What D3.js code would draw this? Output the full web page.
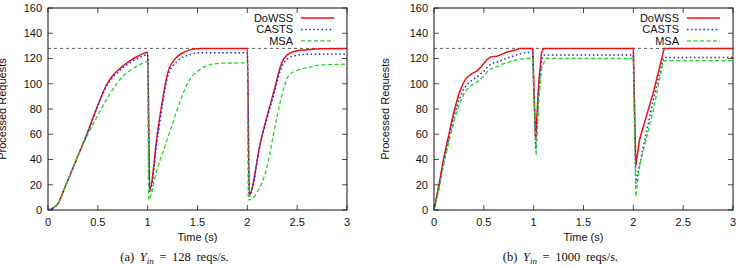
<!DOCTYPE html>
<html>
<head>
<meta charset="utf-8">
<script src="https://cdn.jsdelivr.net/npm/d3@7"></script>
<style>
  body { margin: 0; background: #fff; }
  svg { display: block; }
</style>
</head>
<body>
<svg id="chart" width="740" height="267"></svg>
<script>
// tick labels
const xTicks = [0, 0.5, 1, 1.5, 2, 2.5, 3];
const yTicks = [0, 20, 40, 60, 80, 100, 120, 140, 160];
const seriesNames = ["DoWSS", "CASTS", "MSA"];
const capacity = 128;

// (a) Y_in = 128 reqs/s  -- [time, processed requests]
const dowssA = [[0,0],[0.05,1.5],[0.1,5],[0.17,18],[0.28,39],[0.4,62],[0.5,83],[0.58,98],[0.65,106.5],[0.72,112],[0.8,117],[0.9,121.8],[1.0,125],
  [1.02,16],[1.1,62],[1.21,111],[1.29,121],[1.38,125.5],[1.46,127.5],[1.55,128],[2.0,128],
  [2.02,12],[2.13,53],[2.26,92],[2.36,119],[2.46,125.4],[2.6,127],[2.75,127.8],[3.0,128]];
const castsA = [[0,0],[0.05,1.5],[0.1,5],[0.17,18],[0.28,39],[0.4,62],[0.5,82.5],[0.58,97],[0.65,105],[0.72,110.5],[0.8,115.5],[0.9,120],[1.0,123],
  [1.02,14],[1.1,58],[1.21,108],[1.3,118],[1.4,122.5],[1.53,124.5],[2.0,124.5],
  [2.02,11],[2.13,52],[2.26,90],[2.36,116],[2.46,122],[2.6,123.3],[3.0,123.6]];
const msaA = [[0,0],[0.05,1.5],[0.1,5],[0.17,18],[0.28,39],[0.4,60],[0.5,75],[0.59,88],[0.68,99],[0.76,106.5],[0.84,111.5],[0.92,115],[1.0,117.5],
  [1.01,8],[1.09,31],[1.18,52],[1.26,71],[1.34,89],[1.42,103],[1.52,111],[1.6,114.5],[1.75,116.3],[2.0,116.5],
  [2.01,8],[2.09,13],[2.19,32],[2.29,71],[2.36,95],[2.42,107],[2.5,110.5],[2.59,112.5],[2.76,115],[3.0,115.5]];

// (b) Y_in = 1000 reqs/s
const dowssB = [[0,0],[0.05,20],[0.1,42],[0.15,60],[0.2,78],[0.25,92],[0.29,100],[0.33,105],[0.38,108],[0.43,110],[0.48,114],[0.53,119],[0.57,121.3],[0.63,121.8],[0.68,123.3],[0.74,125.3],[0.8,126.3],[0.86,128],[0.99,128],
  [1.02,55],[1.05,100],[1.08,125],[1.1,128],[2.0,128],
  [2.025,35],[2.06,55],[2.1,66],[2.2,93],[2.31,128],[3.0,128]];
const castsB = [[0,0],[0.05,18],[0.1,40],[0.15,57],[0.2,74],[0.25,87],[0.3,96],[0.35,101],[0.4,104],[0.45,106.5],[0.5,110],[0.55,114.5],[0.6,116.5],[0.65,117.5],[0.7,119.5],[0.78,121.5],[0.85,123.5],[0.92,124.7],[0.99,124.7],
  [1.02,48],[1.05,94],[1.08,119],[1.1,122.8],[2.0,122.8],
  [2.025,21],[2.1,50],[2.2,87],[2.3,120],[2.32,120.8],[3.0,120.8]];
const msaB = [[0,0],[0.05,16],[0.1,37],[0.15,54],[0.2,70],[0.25,83],[0.3,92],[0.35,97.5],[0.4,100],[0.45,102.5],[0.5,106],[0.55,111],[0.6,113],[0.65,114],[0.7,116],[0.78,118],[0.85,119.3],[0.92,120],[0.99,120],
  [1.025,43],[1.05,85],[1.08,112],[1.12,120],[2.0,120],
  [2.025,10.5],[2.06,34],[2.2,79],[2.3,117.5],[2.32,118.3],[3.0,118.3]];

const panels = [
  { left: 48, label: "a", rate: "128", data: [dowssA, castsA, msaA], curve: d3.curveMonotoneX },
  { left: 434, label: "b", rate: "1000", data: [dowssB, castsB, msaB], curve: d3.curveLinear }
];

const styles = [
  { color: "#ee1111", width: 1.5, dash: null },
  { color: "#2424e8", width: 1.5, dash: "1.5,2.6" },
  { color: "#22d422", width: 1.3, dash: "4,2.5" }
];

const svg = d3.select("#chart");
const plotW = 299, plotTop = 8, plotH = 202;
const font = "'Liberation Sans', Arial, Helvetica, sans-serif";

panels.forEach((p, pi) => {
  const g = svg.append("g").attr("transform", `translate(${p.left},${plotTop})`);
  const x = d3.scaleLinear().domain([0, 3]).range([0, plotW]);
  const y = d3.scaleLinear().domain([0, 160]).range([plotH, 0]);

  g.append("clipPath").attr("id", "clip" + pi)
    .append("rect").attr("width", plotW).attr("height", plotH);

  // ticks (inside, mirrored)
  const tk = 5;
  g.selectAll(".xt").data(xTicks).enter().append("path")
    .attr("d", d => `M${x(d)},${plotH}v${-tk}M${x(d)},0v${tk}`)
    .attr("stroke", "#222").attr("stroke-width", 0.8);
  g.selectAll(".yt").data(yTicks).enter().append("path")
    .attr("d", d => `M0,${y(d)}h${tk}M${plotW},${y(d)}h${-tk}`)
    .attr("stroke", "#222").attr("stroke-width", 0.8);

  g.selectAll(".xl").data(xTicks).enter().append("text")
    .attr("x", d => x(d)).attr("y", plotH + 16)
    .attr("text-anchor", "middle")
    .attr("font-family", font).attr("font-size", 11).attr("fill", "#111")
    .text(d => d);
  g.selectAll(".yl").data(yTicks).enter().append("text")
    .attr("x", -6).attr("y", d => y(d)).attr("dy", "0.36em")
    .attr("text-anchor", "end")
    .attr("font-family", font).attr("font-size", 11).attr("fill", "#111")
    .text(d => d);

  g.append("text")
    .attr("x", plotW / 2).attr("y", plotH + 30.5)
    .attr("text-anchor", "middle")
    .attr("font-family", font).attr("font-size", 11).attr("fill", "#111")
    .text("Time (s)");
  g.append("text")
    .attr("transform", `translate(${pi ? -45 : -42},${plotH / 2}) rotate(-90)`)
    .attr("text-anchor", "middle")
    .attr("font-family", font).attr("font-size", 11).attr("fill", "#111")
    .text("Processed Requests");

  // capacity line
  g.append("line")
    .attr("x1", 0).attr("x2", plotW)
    .attr("y1", y(capacity)).attr("y2", y(capacity))
    .attr("stroke", "#333").attr("stroke-width", 0.8).attr("stroke-dasharray", "3,3");

  const line = d3.line().x(d => x(d[0])).y(d => y(d[1])).curve(p.curve);
  p.data.forEach((s, i) => {
    g.append("path")
      .attr("clip-path", `url(#clip${pi})`)
      .attr("d", line(s))
      .attr("fill", "none")
      .attr("stroke", styles[i].color)
      .attr("stroke-width", styles[i].width)
      .attr("stroke-dasharray", styles[i].dash);
  });

  // legend
  seriesNames.forEach((n, i) => {
    const ly = 10 + i * 11.4;
    g.append("text")
      .attr("x", plotW - 54).attr("y", ly).attr("dy", "0.36em")
      .attr("text-anchor", "end")
      .attr("font-family", font).attr("font-size", 11).attr("fill", "#111")
      .text(n);
    g.append("line")
      .attr("x1", plotW - 46).attr("x2", plotW - 13)
      .attr("y1", ly).attr("y2", ly)
      .attr("stroke", styles[i].color)
      .attr("stroke-width", styles[i].width)
      .attr("stroke-dasharray", styles[i].dash);
  });

  g.append("rect")
    .attr("width", plotW).attr("height", plotH)
    .attr("fill", "none").attr("stroke", "#111").attr("stroke-width", 1);

  // caption
  const cap = g.append("text")
    .attr("x", plotW / 2 - 23).attr("y", 261 - plotTop)
    .attr("text-anchor", "middle")
    .attr("font-family", "'Liberation Serif', 'Times New Roman', serif")
    .attr("font-size", 12.5).attr("word-spacing", 2.5).attr("fill", "#111");
  cap.append("tspan").text(`(${p.label}) `);
  cap.append("tspan").attr("font-style", "italic").text("Y");
  cap.append("tspan").attr("font-style", "italic").attr("font-size", 9).attr("dy", 2.5).text("in");
  cap.append("tspan").attr("dy", -2.5).text(` = ${p.rate} reqs/s.`);
});
</script>
</body>
</html>
